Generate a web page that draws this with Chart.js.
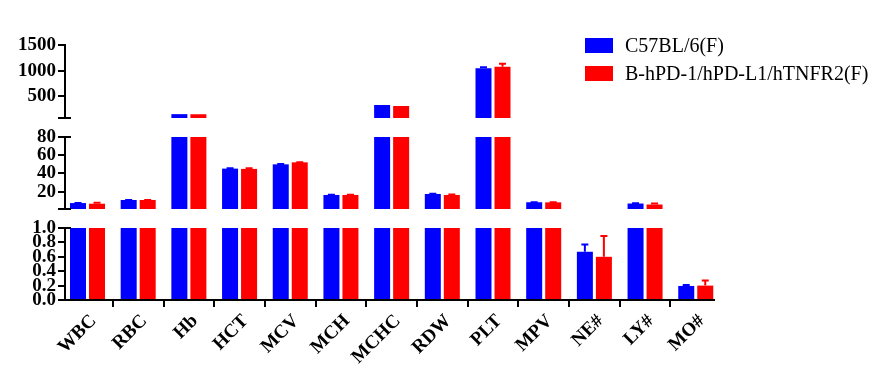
<!DOCTYPE html>
<html><head><meta charset="utf-8">
<script src="https://cdn.jsdelivr.net/npm/chart.js@4.4.1/dist/chart.umd.min.js"></script>
<style>
html,body{margin:0;padding:0;background:#fff;}
#wrap{position:relative;width:893px;height:374px;overflow:hidden;background:#fff;}
canvas{position:absolute;left:0;top:0;}
#legend{position:absolute;left:585px;top:31px;font-family:'Liberation Serif','Times New Roman',serif;font-size:20px;color:#000;}
.item{display:flex;align-items:center;height:28px;white-space:nowrap;}
.box{width:28px;height:15px;margin-right:12px;}
</style></head><body>
<div id="wrap">
<canvas id="cTop" width="893" height="374"></canvas>
<canvas id="cMid" width="893" height="374"></canvas>
<canvas id="cLow" width="893" height="374"></canvas>
<div id="legend"></div>
</div>
<script>
// ---- data ----
const categories = ['WBC','RBC','Hb','HCT','MCV','MCH','MCHC','RDW','PLT','MPV','NE#','LY#','MO#'];
const seriesNames = ['C57BL/6(F)','B-hPD-1/hPD-L1/hTNFR2(F)'];
const seriesColors = ['#0000FF','#FF0000'];
const wildValues  = [7.5, 10.9, 155, 45.3, 50.0, 16.4, 333, 17.5, 1050, 8.4, 0.67, 7.0, 0.195];
const wildErrors  = [0.2, 0.1, 0, 0.4, 0.4, 0.1, 0, 0.2, 15, 0.1, 0.10, 0.2, 0.012];
const modelValues = [6.8, 10.9, 153, 45.0, 52.2, 16.4, 313, 16.4, 1075, 8.3, 0.60, 5.9, 0.20];
const modelErrors = [1.0, 0.1, 0, 0.6, 0.2, 0.1, 0, 0.6, 60, 0.2, 0.29, 1.1, 0.07];
const topTicks = [500, 1000, 1500];
const midTicks = [20, 40, 60, 80];
const lowTicks = [0, 0.2, 0.4, 0.6, 0.8, 1.0];
const topRange = [80, 1500];
const midRange = [1, 80];
const lowRange = [0, 1];

// ---- legend ----
const lg = document.getElementById('legend');
seriesNames.forEach((n, i) => {
  const d = document.createElement('div'); d.className = 'item';
  const b = document.createElement('div'); b.className = 'box'; b.style.background = seriesColors[i];
  const t = document.createElement('span'); t.textContent = n;
  d.appendChild(b); d.appendChild(t); lg.appendChild(d);
});

const errorBarPlugin = {
  id: 'errorBars',
  afterDatasetsDraw(chart) {
    const { ctx, chartArea: a } = chart;
    const ys = chart.scales.y;
    ctx.save();
    ctx.beginPath();
    ctx.rect(a.left, a.top - 1, a.right - a.left, a.bottom - a.top);
    ctx.clip();
    chart.data.datasets.forEach((ds, di) => {
      const meta = chart.getDatasetMeta(di);
      meta.data.forEach((bar, i) => {
        const v = ds.data[i].y, e = ds.errors[i];
        if (!e || v < ys.min || v > ys.max) return;
        const yTop = ys.getPixelForValue(v + e);
        const yBase = ys.getPixelForValue(v);
        ctx.strokeStyle = ds.backgroundColor;
        ctx.lineWidth = 2;
        ctx.beginPath();
        ctx.moveTo(bar.x, yBase); ctx.lineTo(bar.x, yTop);
        ctx.moveTo(bar.x - 3.5, yTop); ctx.lineTo(bar.x + 3.5, yTop);
        ctx.stroke();
      });
    });
    ctx.restore();
  }
};

const capPlugin = {
  id: 'caps',
  afterDraw(chart, args, opts) {
    const { ctx, chartArea: a } = chart;
    ctx.save();
    ctx.strokeStyle = '#000'; ctx.lineWidth = 2;
    (opts.at || []).forEach(pos => {
      const y = pos === 'top' ? a.top : a.bottom;
      ctx.beginPath(); ctx.moveTo(a.left - 7, y); ctx.lineTo(a.left + 6, y); ctx.stroke();
    });
    ctx.restore();
  }
};

const serif = "'Liberation Serif','Times New Roman',serif";

function makeChart(id, range, tickVals, area, caps, showX, decimals) {
  const datasets = [wildValues, modelValues].map((vals, k) => ({
    label: seriesNames[k],
    data: vals.map((v, i) => ({ x: i, y: v })),
    errors: k === 0 ? wildErrors : modelErrors,
    backgroundColor: seriesColors[k],
    borderWidth: 0,
    categoryPercentage: 0.75,
    barPercentage: 0.842,
    clip: 0
  }));
  const xH = showX ? 74 : 0;
  return new Chart(document.getElementById(id), {
    type: 'bar',
    data: { datasets },
    plugins: [errorBarPlugin, capPlugin],
    options: {
      responsive: false, animation: false, devicePixelRatio: 1,
      layout: { padding: { top: area[0], bottom: 374 - area[1] - xH, left: 0, right: 893 - 714 } },
      plugins: { legend: { display: false }, tooltip: { enabled: false }, caps: { at: caps } },
      scales: {
        x: {
          type: 'linear', display: showX, min: -0.444, max: 12.36, offset: false,
          afterBuildTicks: s => { s.ticks = categories.map((_, i) => ({ value: i })); },
          afterFit: s => { s.height = xH; },
          grid: { drawOnChartArea: false, drawTicks: true, tickLength: 7, color: '#000', lineWidth: 2 },
          border: { display: true, color: '#000', width: 2 },
          ticks: {
            autoSkip: false, minRotation: 45, maxRotation: 45, padding: 3, labelOffset: 6, color: '#000',
            font: { family: serif, size: 19, weight: 'bold' },
            callback: v => categories[Math.round(v)] ?? ''
          }
        },
        y: {
          min: range[0], max: range[1],
          afterBuildTicks: s => {
            const vals = tickVals.includes(range[0]) ? tickVals : [range[0]].concat(tickVals);
            s.ticks = vals.map(v => ({ value: v }));
          },
          afterFit: s => { s.width = 65; },
          grid: { drawOnChartArea: false, drawTicks: true, tickLength: 7, color: '#000', lineWidth: 2 },
          border: { display: true, color: '#000', width: 2 },
          ticks: {
            autoSkip: false, padding: 2, color: '#000',
            font: { family: serif, size: 19, weight: 'bold' },
            callback: v => tickVals.includes(v) ? (decimals ? v.toFixed(decimals) : String(v)) : ''
          }
        }
      }
    }
  });
}

makeChart('cTop', topRange, topTicks, [45, 118], ['bottom'], false, 0);
makeChart('cMid', midRange, midTicks, [137, 209], ['top', 'bottom'], false, 0);
makeChart('cLow', lowRange, lowTicks, [228, 300], ['top'], true, 1);
</script>
</body></html>
